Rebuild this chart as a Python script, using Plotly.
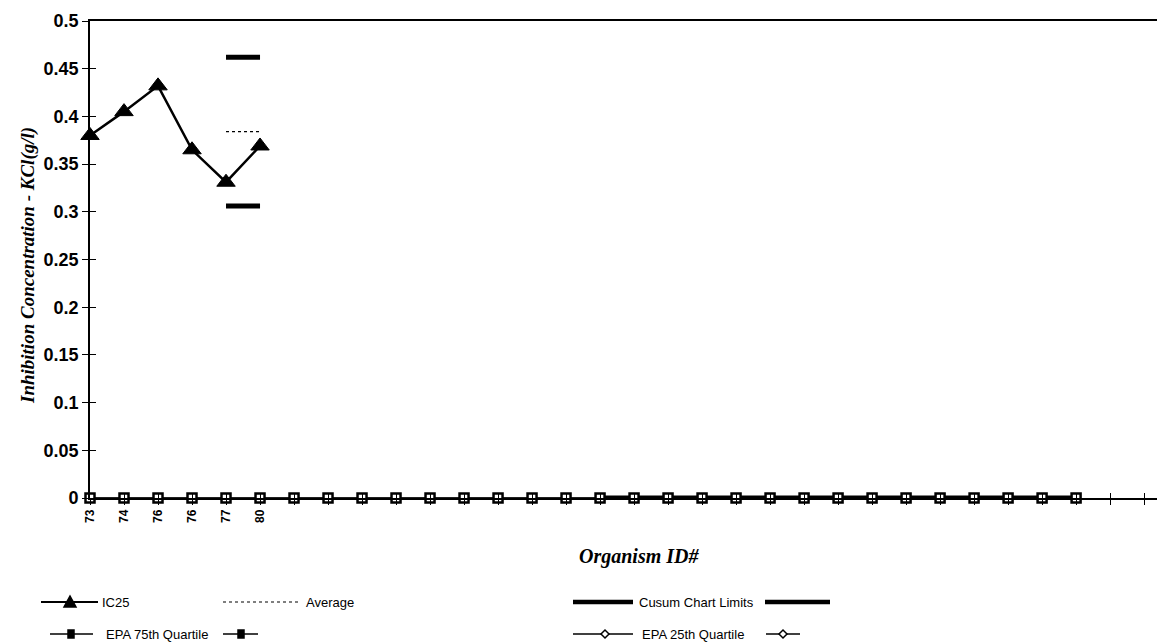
import plotly.graph_objects as go

# ---------------- data ----------------
organism_ids = ["73", "74", "76", "76", "77", "80"]
n_categories = 32
ic25 = [0.380, 0.405, 0.432, 0.365, 0.331, 0.369]
average = [None, None, None, None, 0.384, 0.384]
cusum_upper = [None, None, None, None, 0.462, 0.462]
cusum_lower = [None, None, None, None, 0.306, 0.306,
               None, None, None, None, None, None, None, None, None,
               0, 0, 0, 0, 0, 0, 0, 0, 0, 0, 0, 0, 0, 0, 0]
epa_75th = [0, 0, 0, 0, 0, 0, 0, 0, 0, 0, 0, 0, 0, 0, 0,
            0, 0, 0, 0, 0, 0, 0, 0, 0, 0, 0, 0, 0, 0, 0]
epa_25th = [0, 0, 0, 0, 0, 0, 0, 0, 0, 0, 0, 0, 0, 0, 0,
            0, 0, 0, 0, 0, 0, 0, 0, 0, 0, 0, 0, 0, 0, 0]
y_ticks = [0, 0.05, 0.1, 0.15, 0.2, 0.25, 0.3, 0.35, 0.4, 0.45, 0.5]
y_tick_text = ["0", "0.05", "0.1", "0.15", "0.2", "0.25", "0.3", "0.35", "0.4", "0.45", "0.5"]

# ---------------- geometry ----------------
W, H = 1165, 643
L, R, T, B = 82, 0, 13, 153
plot_w = W - L - R
plot_h = H - T - B

def px(xp):
    return (xp - L) / plot_w

def py(yp):
    return (H - B - yp) / plot_h

cats = list(range(n_categories))
ticktext = organism_ids + [""] * (n_categories - len(organism_ids))

fig = go.Figure()

fig.add_trace(go.Scatter(x=cats[:len(epa_25th)], y=epa_25th, mode="lines",
                         line=dict(color="black", width=1.2),
                         cliponaxis=False, showlegend=False))
fig.add_trace(go.Scatter(x=cats[:len(cusum_lower)], y=cusum_lower, mode="lines",
                         line=dict(color="black", width=5), connectgaps=False,
                         cliponaxis=False, showlegend=False))
fig.add_trace(go.Scatter(x=cats[:len(epa_75th)], y=epa_75th, mode="lines+markers",
                         line=dict(color="black", width=1.6),
                         marker=dict(symbol="square", size=9, color="white",
                                     line=dict(color="black", width=2.5)),
                         cliponaxis=False, showlegend=False))
fig.add_trace(go.Scatter(x=cats[:len(cusum_upper)], y=cusum_upper, mode="lines",
                         line=dict(color="black", width=5),
                         cliponaxis=False, showlegend=False))
fig.add_trace(go.Scatter(x=cats[:len(average)], y=average, mode="lines",
                         line=dict(color="black", width=1.3, dash="dot"),
                         showlegend=False))
fig.add_trace(go.Scatter(x=cats[:len(ic25)], y=ic25, mode="lines+markers",
                         line=dict(color="black", width=2.5),
                         marker=dict(symbol="triangle-up", size=16, color="black",
                                     line=dict(color="black", width=1)),
                         cliponaxis=False, showlegend=False))
# overlay axes carrying the inner half of the crossing tick marks
fig.add_trace(go.Scatter(x=[None], y=[None], xaxis="x2", yaxis="y2",
                         showlegend=False, hoverinfo="skip"))

tickfont = dict(family="Liberation Sans", size=18, color="black", weight="bold")
fig.update_layout(
    width=W, height=H,
    margin=dict(l=L, r=R, t=T, b=B),
    paper_bgcolor="white", plot_bgcolor="white",
    showlegend=False,
    xaxis=dict(range=[0, 31.85], tickmode="array", tickvals=cats, ticktext=ticktext,
               tickangle=-90, ticks="outside", ticklen=5, tickwidth=1.3, tickcolor="black",
               tickfont=dict(family="Liberation Sans", size=12, color="black", weight="bold"),
               showline=True, linecolor="black", linewidth=1.6, mirror=True,
               showgrid=False, zeroline=False),
    yaxis=dict(range=[0, 0.5], tickmode="array", tickvals=y_ticks, ticktext=y_tick_text,
               ticks="outside", ticklen=6, tickwidth=1.3, tickcolor="black",
               tickfont=tickfont, showline=True, linecolor="black", linewidth=1.6,
               showgrid=False, zeroline=False),
    xaxis2=dict(range=[0, 31.85], overlaying="x", anchor="y2", tickmode="array",
                tickvals=cats, ticks="inside", ticklen=5, tickwidth=1.3, tickcolor="black",
                showticklabels=False, showline=False, showgrid=False, zeroline=False),
    yaxis2=dict(range=[0, 0.5], overlaying="y", anchor="x2", side="left", tickmode="array",
                tickvals=y_ticks, ticks="inside", ticklen=6, tickwidth=1.3, tickcolor="black",
                showticklabels=False, showline=False, showgrid=False, zeroline=False),
)

# axis titles
title_font = dict(family="Liberation Serif", size=19, color="black", weight="bold", style="italic")
fig.add_annotation(text="Inhibition Concentration - KCl(g/l)", xref="paper", yref="paper",
                   x=px(20), y=py(258), textangle=-90, showarrow=False, font=title_font,
                   xanchor="center", yanchor="middle")
fig.add_annotation(text="Organism ID#", xref="paper", yref="paper",
                   x=px(631), y=py(548), showarrow=False,
                   font=dict(family="Liberation Serif", size=20, color="black",
                             weight="bold", style="italic"),
                   xanchor="center", yanchor="middle")

# ---------------- legend (drawn) ----------------
leg_font = dict(family="Liberation Sans", size=13, color="black")

def leg_line(x0, x1, y, width, dash="solid"):
    fig.add_shape(type="line", xref="paper", yref="paper", x0=px(x0), x1=px(x1),
                  y0=py(y), y1=py(y), line=dict(color="black", width=width, dash=dash))

def leg_marker(x, y, path, fill):
    fig.add_shape(type="path", xref="paper", yref="paper", xsizemode="pixel",
                  ysizemode="pixel", xanchor=px(x), yanchor=py(y), path=path,
                  fillcolor=fill, line=dict(color="black", width=1.5))

def leg_text(x, y, text):
    fig.add_annotation(text=text, xref="paper", yref="paper", x=px(x), y=py(y),
                       showarrow=False, font=leg_font, xanchor="left", yanchor="middle",
                       borderpad=0)

tri = "M -6,-5 L 6,-5 L 0,6 Z"
sq = "M -3,-4 L 3,-4 L 3,4 L -3,4 Z"
dia = "M 0,-4 L 4,0 L 0,4 L -4,0 Z"

r1, r2 = 594, 626
# IC25
leg_line(33, 90, r1, 2)
leg_marker(62, r1, tri, "black")
leg_text(93, r1, "IC25")
# Average
leg_line(215, 290, r1, 1.2, "dot")
leg_text(297, r1, "Average")
# Cusum
leg_line(565, 625, r1, 4.5)
leg_text(630, r1, "Cusum Chart Limits")
leg_line(757, 822, r1, 4.5)
# EPA 75th
leg_line(42, 85, r2, 1.5)
leg_marker(63, r2, sq, "black")
leg_text(97, r2, "EPA 75th Quartile")
leg_line(215, 250, r2, 1.5)
leg_marker(233, r2, sq, "black")
# EPA 25th
leg_line(565, 625, r2, 1.5)
leg_marker(597, r2, dia, "white")
leg_text(633, r2, "EPA 25th Quartile")
leg_line(758, 792, r2, 1.5)
leg_marker(775, r2, dia, "white")

fig.write_html("out.html")
